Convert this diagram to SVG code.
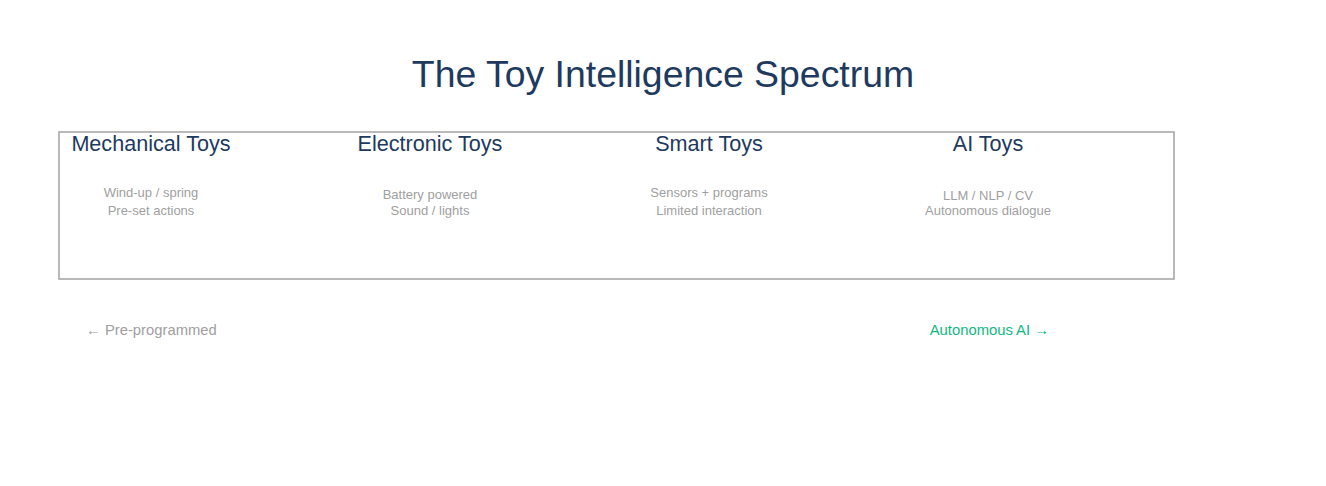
<svg xmlns="http://www.w3.org/2000/svg" width="1326" height="486" viewBox="0 0 1326 486">
<style>
text{font-family:"Liberation Sans",Arial,sans-serif}
.title{font-size:37.4px;fill:#1e3a5f;text-anchor:middle}
.h{font-size:21.6px;fill:#1e3a5f;text-anchor:middle}
.s{font-size:13px;fill:#a0a0a0;text-anchor:middle}
.lab{font-size:14.8px}
</style>
<rect width="1326" height="486" fill="#ffffff"/>
<text class="title" x="663" y="87">The Toy Intelligence Spectrum</text>
<rect x="59" y="132" width="1115" height="147" fill="none" stroke="#a8a8a8" stroke-width="1.6"/>
<g id="mechanical">
<text class="h" x="151" y="151">Mechanical Toys</text>
<text class="s" x="151" y="197">Wind-up / spring</text>
<text class="s" x="151" y="215">Pre-set actions</text>
</g>
<g id="electronic">
<text class="h" x="430" y="151">Electronic Toys</text>
<text class="s" x="430" y="199">Battery powered</text>
<text class="s" x="430" y="215">Sound / lights</text>
</g>
<g id="smart">
<text class="h" x="709" y="151">Smart Toys</text>
<text class="s" x="709" y="197">Sensors + programs</text>
<text class="s" x="709" y="215">Limited interaction</text>
</g>
<g id="ai">
<text class="h" x="988" y="151">AI Toys</text>
<text class="s" x="988" y="200">LLM / NLP / CV</text>
<text class="s" x="988" y="215">Autonomous dialogue</text>
</g>
<g id="connectors"></g>
<text class="lab" x="86" y="335" fill="#a0a0a0">← Pre-programmed</text>
<text class="lab" x="1049" y="335" fill="#10b981" text-anchor="end">Autonomous AI →</text>
</svg>
